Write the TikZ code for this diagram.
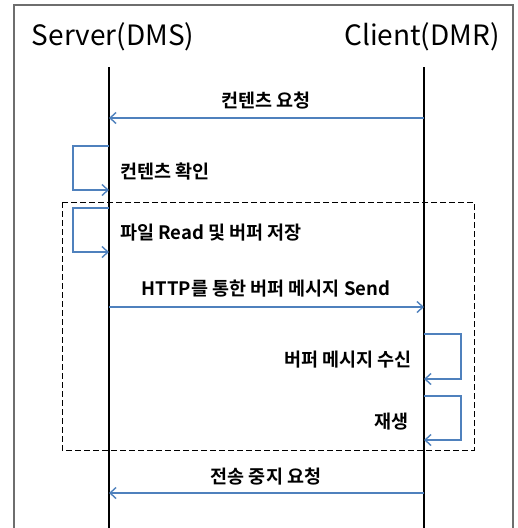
\documentclass[tikz,border=0pt]{standalone}
\usepackage{fontspec}
\setmainfont{Noto Sans CJK KR}
\newfontfamily\krbold{Noto Sans CJK KR Bold}
\usetikzlibrary{arrows.meta}
\definecolor{msgblue}{RGB}{79,129,189}
\definecolor{framegray}{RGB}{110,110,110}
\tikzset{
  x=1pt, y=-1pt,
  lifeline/.style={line width=1.8pt, black},
  msg/.style={line width=1.6pt, msgblue, -{Straight Barb[length=6pt,width=11pt,line width=1.4pt]}},
  msglabel/.style={font=\krbold\fontsize{18.5}{20}\selectfont, inner sep=0pt},
  title/.style={font=\fontsize{28}{32}\selectfont, inner sep=0pt}
}
\begin{document}
\begin{tikzpicture}
\useasboundingbox (0,0) rectangle (518,528);
% outer frame
\draw[framegray, line width=1.3pt] (14,540) -- (14,5) -- (513,5) -- (513,540);
% participants
\node[title] (srv) at (113,37) {Server(DMS)};
\node[title] (cli) at (422,37) {Client(DMR)};
\coordinate (srvtop) at (109,67);
\coordinate (srvbot) at (109,530);
\coordinate (clitop) at (424,67);
\coordinate (clibot) at (424,530);
\draw[lifeline] (srvtop) -- (srvbot);
\draw[lifeline] (clitop) -- (clibot);
% repeated streaming block
\draw[dashed, line width=0.9pt, dash pattern=on 6pt off 3pt] (62,202) rectangle (474,450);
% content request
\coordinate (c1) at (424,118); \coordinate (s1) at (109,118);
\draw[msg] (c1) -- (s1);
\node[msglabel] (l1) at (266,101) {컨텐츠 요청};
% content check
\coordinate (s2a) at (109,146); \coordinate (s2b) at (109,190);
\draw[msg] (s2a) -- (73,146) -- (73,190) -- (s2b);
\node[msglabel, anchor=west] (l2) at (120,172) {컨텐츠 확인};
% file read and buffering
\coordinate (s3a) at (109,208); \coordinate (s3b) at (109,252);
\draw[msg] (s3a) -- (73,208) -- (73,252) -- (s3b);
\node[msglabel, anchor=west] (l3) at (120,233) {파일 Read 및 버퍼 저장};
% buffer message over HTTP
\coordinate (s4) at (109,307); \coordinate (c4) at (424,307);
\draw[msg] (s4) -- (c4);
\node[msglabel] (l4) at (266,289) {HTTP를 통한 버퍼 메시지 Send};
% buffer reception
\coordinate (c5a) at (424,334); \coordinate (c5b) at (424,379);
\draw[msg] (c5a) -- (461,334) -- (461,379) -- (c5b);
\node[msglabel, anchor=east] (l5) at (412,360) {버퍼 메시지 수신};
% playback
\coordinate (c6a) at (424,396); \coordinate (c6b) at (424,440);
\draw[msg] (c6a) -- (461,396) -- (461,440) -- (c6b);
\node[msglabel, anchor=east] (l6) at (409,422) {재생};
% stop request
\coordinate (c7) at (424,493); \coordinate (s7) at (109,493);
\draw[msg] (c7) -- (s7);
\node[msglabel] (l7) at (266,477) {전송 중지 요청};
\end{tikzpicture}
\end{document}
